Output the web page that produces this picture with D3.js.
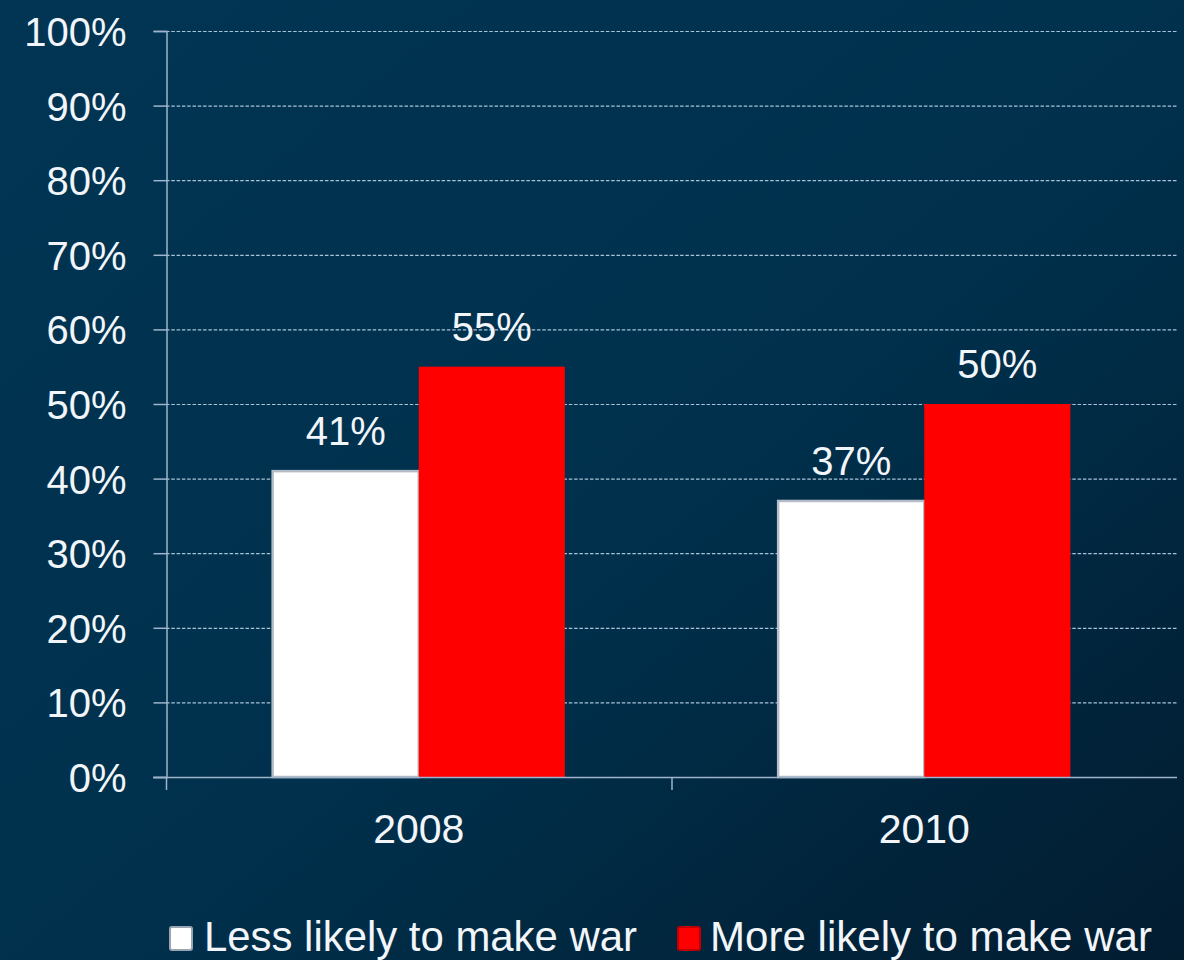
<!DOCTYPE html>
<html>
<head>
<meta charset="utf-8">
<script src="https://cdn.jsdelivr.net/npm/d3@7/dist/d3.min.js"></script>
<style>
  html, body { margin: 0; padding: 0; background: #00304c; }
  svg { display: block; }
  text { font-family: "Liberation Sans", Arial, sans-serif; fill: #f2f6fa; }
</style>
</head>
<body>
<svg id="chart" width="1184" height="960"></svg>
<script>
// Survey years and the two answer groups
const years = ["2008", "2010"];
const seriesNames = ["Less likely to make war", "More likely to make war"];
const lessLikely = [41, 37];
const moreLikely = [55, 50];
const yTicks = [0, 10, 20, 30, 40, 50, 60, 70, 80, 90, 100];
const seriesColors = ["#ffffff", "#ff0000"];

const svg = d3.select("#chart");
const W = 1184, H = 960;

// Background: dark navy with a slight darkening towards the lower right
const defs = svg.append("defs");
const bg = defs.append("linearGradient").attr("id", "bg")
  .attr("x1", "0%").attr("y1", "0%").attr("x2", "100%").attr("y2", "100%");
bg.append("stop").attr("offset", "0%").attr("stop-color", "#013553");
bg.append("stop").attr("offset", "55%").attr("stop-color", "#00304c");
bg.append("stop").attr("offset", "100%").attr("stop-color", "#021c30");
svg.append("rect").attr("width", W).attr("height", H).attr("fill", "url(#bg)");

const plotLeft = 166, plotRight = 1177, plotTop = 31, plotBottom = 777;

const y = d3.scaleLinear().domain([0, 100]).range([plotBottom, plotTop]);
const x0 = d3.scaleBand().domain(years).range([plotLeft, plotRight]).paddingInner(0).paddingOuter(0);
const x1 = d3.scaleBand().domain(seriesNames).range([0, x0.bandwidth()])
  .paddingInner(0).paddingOuter(0.73);

// Dashed horizontal gridlines
svg.append("g").selectAll("line").data(yTicks.filter(d => d > 0)).join("line")
  .attr("x1", plotLeft).attr("x2", plotRight)
  .attr("y1", d => y(d) + 0.5).attr("y2", d => y(d) + 0.5)
  .attr("stroke", "#a9c3da").attr("stroke-width", 1.2)
  .attr("stroke-dasharray", "3.5,1.8");

// Y axis
const yAxis = d3.axisLeft(y).tickValues(yTicks).tickSize(13).tickPadding(27)
  .tickFormat(d => d + "%");
const gy = svg.append("g").attr("transform", `translate(${plotLeft + 0.5},0)`).call(yAxis);
gy.select(".domain").attr("stroke", "#9fb4cc").attr("stroke-width", 1.5);
gy.selectAll(".tick line").attr("stroke", "#9fb4cc").attr("stroke-width", 1.5);
gy.selectAll(".tick text").attr("font-size", 40).attr("fill", "#f2f6fa")
  .attr("font-family", "'Liberation Sans', Arial, sans-serif").attr("dy", "0.36em");

// Data as rows per year
const rows = years.map((yr, i) => ({ year: yr, values: [lessLikely[i], moreLikely[i]] }));

// Bars
const groups = svg.append("g").selectAll("g").data(rows).join("g")
  .attr("transform", d => `translate(${x0(d.year)},0)`);

groups.selectAll("rect").data(d => d.values.map((v, j) => ({ key: seriesNames[j], v, j })))
  .join("rect")
  .attr("x", d => x1(d.key))
  .attr("y", d => y(d.v))
  .attr("width", x1.bandwidth())
  .attr("height", d => y(0) - y(d.v))
  .attr("fill", d => seriesColors[d.j])
  .attr("stroke", d => d.j === 0 ? "#b3bcc7" : "none")
  .attr("stroke-width", 2.5);

// Value labels above bars
groups.selectAll("text.val").data(d => d.values.map((v, j) => ({ key: seriesNames[j], v, j })))
  .join("text").attr("class", "val")
  .attr("x", d => x1(d.key) + x1.bandwidth() / 2)
  .attr("y", d => y(d.v) - 26)
  .attr("text-anchor", "middle")
  .attr("font-size", 40)
  .text(d => d.v + "%");

// X axis baseline and category ticks
svg.append("line").attr("x1", plotLeft - 13).attr("x2", plotRight)
  .attr("y1", plotBottom + 0.5).attr("y2", plotBottom + 0.5)
  .attr("stroke", "#9fb4cc").attr("stroke-width", 1.5);
svg.append("g").selectAll("line").data(years).join("line")
  .attr("x1", d => x0(d) + 0.5).attr("x2", d => x0(d) + 0.5)
  .attr("y1", plotBottom).attr("y2", plotBottom + 13)
  .attr("stroke", "#9fb4cc").attr("stroke-width", 1.5);

svg.append("g").selectAll("text").data(years).join("text")
  .attr("x", d => x0(d) + x0.bandwidth() / 2)
  .attr("y", 843)
  .attr("text-anchor", "middle")
  .attr("font-size", 41)
  .text(d => d);

// Legend
const legendItems = [
  { name: seriesNames[0], color: seriesColors[0], stroke: "#9aa5b1", sx: 170, tx: 204, tw: 433 },
  { name: seriesNames[1], color: seriesColors[1], stroke: "#c00000", sx: 678, tx: 710, tw: 442 }
];
const lg = svg.append("g");
lg.selectAll("rect").data(legendItems).join("rect")
  .attr("x", d => d.sx).attr("y", 927).attr("width", 22).attr("height", 23)
  .attr("rx", 2)
  .attr("fill", d => d.color).attr("stroke", d => d.stroke).attr("stroke-width", 2);
lg.selectAll("text").data(legendItems).join("text")
  .attr("x", d => d.tx).attr("y", 951)
  .attr("font-size", 43)
  .attr("font-family", "'Liberation Sans Narrow', 'Liberation Sans', Arial, sans-serif")
  .attr("textLength", d => d.tw)
  .attr("lengthAdjust", "spacingAndGlyphs")
  .text(d => d.name);
</script>
</body>
</html>
